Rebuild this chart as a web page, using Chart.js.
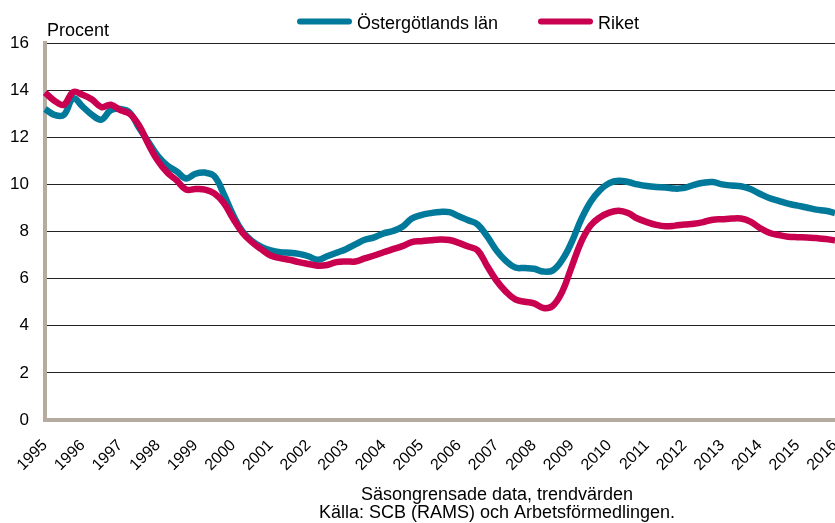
<!DOCTYPE html>
<html>
<head>
<meta charset="utf-8">
<script src="https://cdn.jsdelivr.net/npm/chart.js@4.4.1/dist/chart.umd.min.js"></script>
<style>
  html, body { margin: 0; padding: 0; background: #fff; }
  #wrap { width: 835px; height: 523px; }
</style>
</head>
<body>
<div id="wrap"><canvas id="ch" width="835" height="523"></canvas></div>
<script>
// years on the x axis, data is quarterly (Q1 1995 .. Q1 2016)
const years = ['1995','1996','1997','1998','1999','2000','2001','2002','2003','2004','2005',
  '2006','2007','2008','2009','2010','2011','2012','2013','2014','2015','2016'];

const ostergotland = [
  13.2, 12.95, 12.95, 13.65, 13.3, 12.95, 12.75, 13.15, 13.2, 13.05, 12.4, 11.8,
  11.2, 10.8, 10.55, 10.25, 10.45, 10.5, 10.35, 9.6, 8.7, 8.0, 7.6, 7.35,
  7.2, 7.12, 7.1, 7.05, 6.95, 6.8, 6.95, 7.1, 7.25, 7.45, 7.65, 7.75,
  7.92, 8.02, 8.2, 8.55, 8.7, 8.78, 8.83, 8.82, 8.65, 8.48, 8.3, 7.8,
  7.2, 6.75, 6.47, 6.45, 6.42, 6.3, 6.35, 6.8, 7.55, 8.5, 9.25, 9.75,
  10.05, 10.15, 10.1, 10.0, 9.93, 9.89, 9.87, 9.82, 9.85, 9.98, 10.07, 10.1,
  10.0, 9.95, 9.92, 9.8, 9.6, 9.42, 9.3, 9.18, 9.1, 9.02, 8.93, 8.88, 8.78
];

const riket = [
  13.9, 13.55, 13.38, 13.92, 13.8, 13.6, 13.28, 13.38, 13.15, 13.0, 12.5, 11.7,
  11.0, 10.5, 10.17, 9.78, 9.8, 9.78, 9.62, 9.22, 8.55, 7.95, 7.55, 7.25,
  6.98, 6.87, 6.8, 6.7, 6.62, 6.55, 6.58, 6.7, 6.73, 6.73, 6.86, 6.98,
  7.12, 7.25, 7.38, 7.55, 7.59, 7.63, 7.66, 7.64, 7.52, 7.36, 7.2, 6.55,
  5.92, 5.45, 5.12, 5.02, 4.95, 4.75, 4.85, 5.45, 6.5, 7.55, 8.25, 8.6,
  8.8, 8.88, 8.78, 8.55, 8.4, 8.28, 8.22, 8.25, 8.3, 8.33, 8.4, 8.5,
  8.52, 8.55, 8.55, 8.42, 8.15, 7.95, 7.85, 7.78, 7.76, 7.75, 7.72, 7.68, 7.62
];

const seriesNames = ['Östergötlands län', 'Riket'];
const footerLines = ['Säsongrensade data, trendvärden', 'Källa: SCB (RAMS) och Arbetsförmedlingen.'];

const FONT = '"Liberation Sans", Arial, sans-serif';
const TEAL = '#00799b';
const RED = '#c8004f';
const AXIS = '#b5ab9f';

// quarterly labels, year only on first quarter
const labels = [];
years.forEach((y, i) => {
  for (let q = 0; q < 4; q++) {
    if (i === years.length - 1 && q > 0) break;
    labels.push(q === 0 ? y : '');
  }
});

// legend, unit label and source text
const notes = {
  id: 'notes',
  afterDraw(chart) {
    const c = chart.ctx;
    c.save();
    c.fillStyle = '#000';
    c.font = '18px ' + FONT;
    c.textBaseline = 'alphabetic';
    c.textAlign = 'left';
    c.fillText('Procent', 47, 35.5);

    const legX = [297, 538];
    chart.data.datasets.forEach((ds, i) => {
      c.strokeStyle = ds.borderColor;
      c.lineWidth = 6;
      c.lineCap = 'round';
      c.beginPath();
      c.moveTo(legX[i] + 3, 21.5);
      c.lineTo(legX[i] + 52, 21.5);
      c.stroke();
      c.fillText(ds.label, legX[i] + 60, 28.5);
    });

    c.textAlign = 'center';
    footerLines.forEach((t, i) => c.fillText(t, 497, 500 + i * 18));
    c.restore();
  }
};

new Chart(document.getElementById('ch').getContext('2d'), {
  type: 'line',
  data: {
    labels: labels,
    datasets: [
      {
        label: seriesNames[0],
        data: ostergotland,
        borderColor: TEAL,
        backgroundColor: TEAL,
        borderWidth: 6.5,
        pointRadius: 0,
        tension: 0.4,
        order: 1
      },
      {
        label: seriesNames[1],
        data: riket,
        borderColor: RED,
        backgroundColor: RED,
        borderWidth: 6.5,
        pointRadius: 0,
        tension: 0.4,
        order: 0
      }
    ]
  },
  options: {
    responsive: false,
    animation: false,
    layout: { padding: { top: 43, right: 0, bottom: 48, left: 0 } },
    plugins: {
      legend: { display: false },
      tooltip: { enabled: false }
    },
    scales: {
      x: {
        offset: false,
        afterFit: (s) => { s.height = 55; s.paddingLeft = 0; s.paddingRight = 0; },
        grid: { display: false },
        border: { display: true, color: AXIS, width: 4 },
        ticks: {
          autoSkip: false,
          maxRotation: 45,
          minRotation: 45,
          padding: 8,
          color: '#000',
          font: { family: FONT, size: 16 },
          callback: function(v, i) { return labels[i]; }
        }
      },
      y: {
        min: 0,
        max: 16,
        afterFit: (s) => { s.width = 45; s.paddingTop = 0; s.paddingBottom = 0; },
        grid: { color: '#222', lineWidth: 1, drawTicks: false },
        border: { display: true, color: AXIS, width: 4 },
        ticks: {
          stepSize: 2,
          padding: 16,
          color: '#000',
          font: { family: FONT, size: 17 }
        }
      }
    }
  },
  plugins: [notes]
});
</script>
</body>
</html>
